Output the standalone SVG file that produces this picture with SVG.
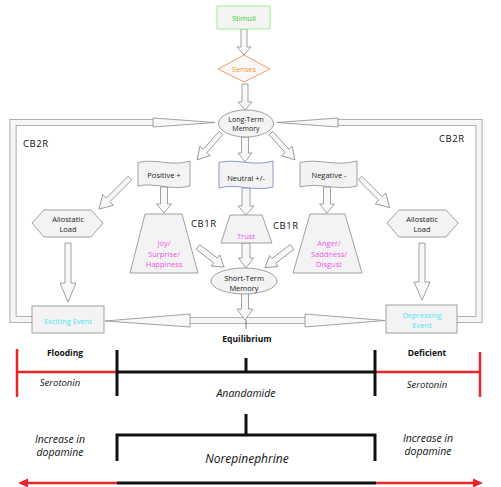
<svg xmlns="http://www.w3.org/2000/svg" width="501" height="487" viewBox="0 0 501 487">
<style>
.node{fill:#f3f3f3;stroke:#8a8a8a;stroke-width:0.8}
.arr{fill:#f8f8f8;stroke:#8a8a8a;stroke-width:0.8;stroke-linejoin:miter}
.bandO{fill:none;stroke:#9a9a9a;stroke-width:7;stroke-linejoin:miter}
.bandI{fill:none;stroke:#f6f6f6;stroke-width:5.4;stroke-linejoin:miter}
.t{font-family:"Open Sans","Noto Sans","DejaVu Sans",sans-serif;font-size:7.5px;fill:#222;text-anchor:middle;dominant-baseline:central}
.cb{font-family:"Open Sans","Noto Sans","DejaVu Sans",sans-serif;font-size:9.5px;letter-spacing:0.6px;fill:#111;dominant-baseline:central}
.b{font-family:"Open Sans","Noto Sans","DejaVu Sans",sans-serif;font-size:8.5px;font-weight:bold;fill:#111;text-anchor:middle;dominant-baseline:central}
.i{font-family:"Open Sans","Noto Sans","DejaVu Sans",sans-serif;font-style:italic;font-size:9.5px;fill:#111;text-anchor:middle;dominant-baseline:central}
.big{font-size:10.5px}
.mag{fill:#ee55ee}
.cy{fill:#55e4f2}
.blk{stroke:#111;stroke-width:3;fill:none}
.red{stroke:#e8262a;stroke-width:2.5;fill:none}
</style>

<g id="connectors">
  <path class="bandO" d="M153,122.5 H13 V319.5 H32"/>
  <path class="bandI" d="M153,122.5 H13 V319.5 H32"/>
  <path class="bandO" d="M338,122.5 H479 V319.5 H457"/>
  <path class="bandI" d="M338,122.5 H479 V319.5 H457"/>
  <polygon class="arr" points="153,118 215,122.5 153,127"/>
  <polygon class="arr" points="338,118 277,122.5 338,127"/>
  <path class="bandO" d="M190,320.5 H305"/>
  <path class="bandI" d="M190,320.5 H305"/>
  <polygon class="arr" points="190,314 105,321 190,327"/>
  <polygon class="arr" points="305,314 385,320.5 305,327"/>
  <line x1="246" y1="320" x2="246" y2="329" stroke="#777" stroke-width="1"/>

  <polygon class="arr" transform="translate(244,29) rotate(90)" points="0,-3 18,-3 18,-7 26,0 18,7 18,3 0,3"/>
  <polygon class="arr" transform="translate(245,84) rotate(90)" points="0,-3 18,-3 18,-7 26,0 18,7 18,3 0,3"/>
  <polygon class="arr" transform="translate(245,137) rotate(90)" points="0,-3.5 16,-3.5 16,-7 25,0 16,7 16,3.5 0,3.5"/>
  <polygon class="arr" transform="translate(221,133) rotate(131.6)" points="0,-2.5 24,-2.5 24,-7 36,0 24,7 24,2.5 0,2.5"/>
  <polygon class="arr" transform="translate(271,133) rotate(48.4)" points="0,-2.5 24,-2.5 24,-7 36,0 24,7 24,2.5 0,2.5"/>
  <polygon class="arr" transform="translate(164,187) rotate(90)" points="0,-3.5 17,-3.5 17,-7.5 26,0 17,7.5 17,3.5 0,3.5"/>
  <polygon class="arr" transform="translate(246,188) rotate(90)" points="0,-4 18,-4 18,-8 27,0 18,8 18,4 0,4"/>
  <polygon class="arr" transform="translate(327,187) rotate(90)" points="0,-3.5 17,-3.5 17,-7.5 26,0 17,7.5 17,3.5 0,3.5"/>
  <polygon class="arr" transform="translate(130,178) rotate(135)" points="0,-2.5 31,-2.5 31,-7.5 44,0 31,7.5 31,2.5 0,2.5"/>
  <polygon class="arr" transform="translate(360,178) rotate(45)" points="0,-2.5 29,-2.5 29,-7.5 42,0 29,7.5 29,2.5 0,2.5"/>
  <polygon class="arr" transform="translate(68,243) rotate(90)" points="0,-3 40,-3 40,-8 59,0 40,8 40,3 0,3"/>
  <polygon class="arr" transform="translate(422,243) rotate(90)" points="0,-3 39,-3 39,-8 57,0 39,8 39,3 0,3"/>
  <polygon class="arr" transform="translate(198,247) rotate(37.6)" points="0,-3 22,-3 22,-7 33,0 22,7 22,3 0,3"/>
  <polygon class="arr" transform="translate(292,247) rotate(142.5)" points="0,-3 23,-3 23,-7 34,0 23,7 23,3 0,3"/>
  <polygon class="arr" transform="translate(246,243) rotate(90)" points="0,-4 15,-4 15,-7.5 25,0 15,7.5 15,4 0,4"/>
  <polygon class="arr" transform="translate(245,293) rotate(90)" points="0,-3.5 16,-3.5 16,-8 27,0 16,8 16,3.5 0,3.5"/>
</g>

<g id="stimuli">
  <rect x="217" y="6" width="53" height="23" fill="#f4f4f4" stroke="#99ee88" stroke-width="0.9"/>
  <text class="t" x="244" y="18" style="fill:#33cc33">Stimuli</text>
</g>
<g id="senses">
  <polygon points="244,55 270,69 244,82 218,69" fill="#f8f8f8" stroke="#f59060" stroke-width="0.9"/>
  <text class="t" x="244" y="69" style="fill:#f59a30">Senses</text>
</g>
<g id="ltm">
  <ellipse class="node" cx="246" cy="123.5" rx="27.5" ry="13.5"/>
  <text class="t" x="246" y="119" style="font-size:7px">Long-Term</text>
  <text class="t" x="246" y="128" style="font-size:7px">Memory</text>
</g>
<g id="positive">
  <path class="node" d="M138,162.5 C155,158 172,167 190,161 V186 C172,191 155,182 138,186 Z"/>
  <text class="t" x="164" y="175">Positive +</text>
</g>
<g id="neutral">
  <path class="node" style="stroke:#6f7fc8" d="M219,162.5 C236,158 254,167 273,161 V187 C254,192 236,183 219,188 Z"/>
  <text class="t" x="246" y="178">Neutral +/-</text>
</g>
<g id="negative">
  <path class="node" d="M300,162.5 C318,158 336,167 357,161 V186 C336,191 318,182 300,187 Z"/>
  <text class="t" x="329" y="175">Negative -</text>
</g>
<g id="allostatic-left">
  <polygon class="node" points="32,223 44,210 91,210 103,223 91,237 44,237"/>
  <text class="t" x="68" y="218.5">Allostatic</text>
  <text class="t" x="68" y="229">Load</text>
</g>
<g id="allostatic-right">
  <polygon class="node" points="387,223 399,210 446,210 458,223 446,237 399,237"/>
  <text class="t" x="422" y="218.5">Allostatic</text>
  <text class="t" x="422" y="229">Load</text>
</g>
<g id="joy">
  <polygon class="node" points="145,214 182,214 198,273 130,273"/>
  <text class="t mag" x="164" y="243">Joy/</text>
  <text class="t mag" x="164" y="253.5">Surprise/</text>
  <text class="t mag" x="164" y="264">Happiness</text>
</g>
<g id="trust">
  <polygon class="node" points="230,215 262,215 272,243 221,243"/>
  <text class="t mag" x="246" y="235.5">Trust</text>
</g>
<g id="anger">
  <polygon class="node" points="310,214 345,214 362,273 293,273"/>
  <text class="t mag" x="329" y="243">Anger/</text>
  <text class="t mag" x="329" y="253.5">Saddness/</text>
  <text class="t mag" x="329" y="264">Disgust</text>
</g>
<g id="stm">
  <ellipse class="node" cx="244" cy="281" rx="33" ry="13"/>
  <text class="t" x="244" y="277.5">Short-Term</text>
  <text class="t" x="244" y="288">Memory</text>
</g>
<g id="exciting">
  <rect class="node" x="32" y="306" width="72" height="27"/>
  <text class="t cy" x="68" y="321">Exciting Event</text>
</g>
<g id="depressing">
  <rect class="node" x="386" y="305" width="71" height="28"/>
  <text class="t cy" x="422" y="314.5">Depressing</text>
  <text class="t cy" x="422" y="325">Event</text>
</g>

<g id="labels">
  <text class="cb" x="23" y="143">CB2R</text>
  <text class="cb" x="439" y="138">CB2R</text>
  <text class="cb" x="191" y="223">CB1R</text>
  <text class="cb" x="273" y="225">CB1R</text>
  <text class="b" x="247" y="338">Equilibrium</text>
  <text class="b" x="65" y="352">Flooding</text>
  <text class="b" x="427" y="352">Deficient</text>
</g>

<g id="scale">
  <line class="red" x1="17" y1="349" x2="17" y2="397"/>
  <line class="red" x1="17" y1="372" x2="117" y2="372"/>
  <line class="red" x1="375" y1="372" x2="480" y2="372"/>
  <line class="red" x1="480" y1="352" x2="480" y2="397"/>
  <line class="blk" x1="117" y1="350" x2="117" y2="396"/>
  <line class="blk" x1="375" y1="350" x2="375" y2="396"/>
  <line class="blk" x1="117" y1="372" x2="375" y2="372"/>
  <line class="blk" x1="246" y1="358" x2="246" y2="372"/>
  <path class="blk" d="M117,461 V435 H375 V461 M246,414 V435"/>
  <line class="red" x1="26" y1="483" x2="117" y2="483"/>
  <line class="blk" x1="117" y1="483" x2="376" y2="483"/>
  <line class="red" x1="376" y1="483" x2="475" y2="483"/>
  <polygon points="18,483 28,478.5 28,487.5" fill="#e8262a"/>
  <polygon points="483,483 473,478.5 473,487.5" fill="#e8262a"/>
  <text class="i" x="60" y="382">Serotonin</text>
  <text class="i" x="427" y="384">Serotonin</text>
  <text class="i" x="246" y="393" style="font-size:10.5px">Anandamide</text>
  <text class="i big" x="60" y="439">Increase in</text>
  <text class="i big" x="60" y="452">dopamine</text>
  <text class="i big" x="428" y="438">Increase in</text>
  <text class="i big" x="428" y="451">dopamine</text>
  <text class="i" x="247" y="458" style="font-size:12px">Norepinephrine</text>
</g>
</svg>
